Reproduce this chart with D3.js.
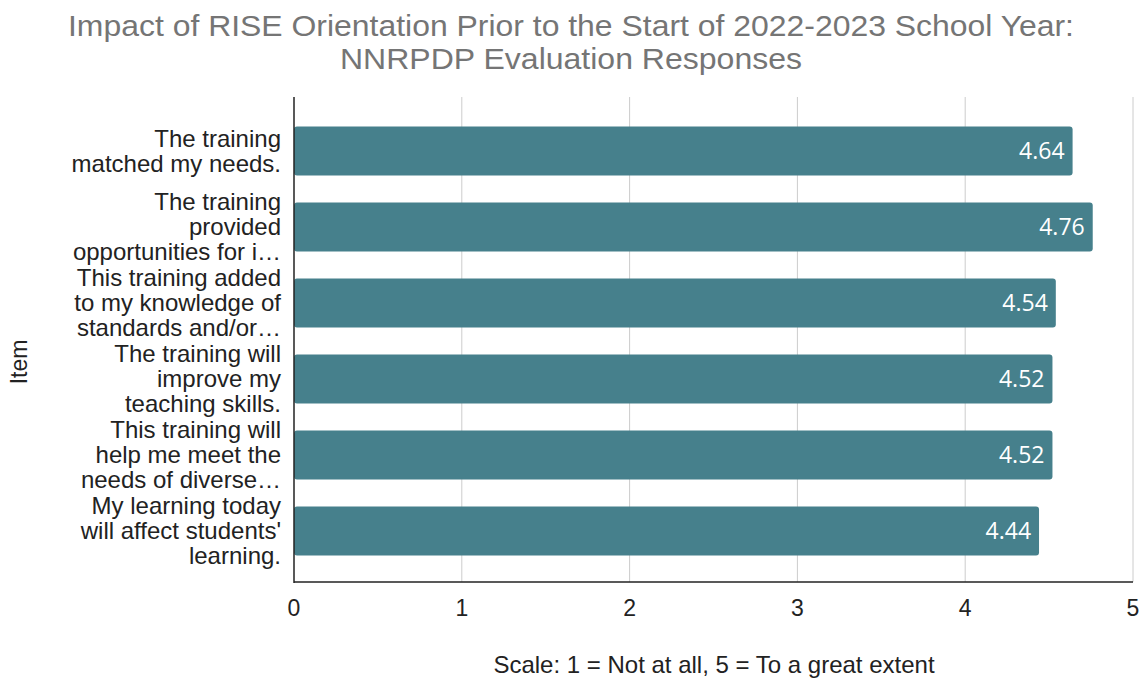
<!DOCTYPE html>
<html><head><meta charset="utf-8">
<script src="https://cdn.jsdelivr.net/npm/d3@7/dist/d3.min.js"></script>
<style>body{margin:0;background:#fff}</style>
</head><body>
<svg id="chart" width="1145" height="679"></svg>
<script>
const categories = [
  ["The training", "matched my needs."],
  ["The training", "provided", "opportunities for i\u2026"],
  ["This training added", "to my knowledge of", "standards and/or\u2026"],
  ["The training will", "improve my", "teaching skills."],
  ["This training will", "help me meet the", "needs of diverse\u2026"],
  ["My learning today", "will affect students'", "learning."]
];
const values = [4.64, 4.76, 4.54, 4.52, 4.52, 4.44];
const xTicks = [0, 1, 2, 3, 4, 5];
const titleLines = ["Impact of RISE Orientation Prior to the Start of 2022-2023 School Year:", "NNRPDP Evaluation Responses"];
const xTitle = "Scale: 1 = Not at all, 5 = To a great extent";
const yTitle = "Item";

const svg = d3.select("#chart");
const font = "'Liberation Sans', Arial, sans-serif";
const plotL = 294, plotR = 1133, plotT = 97, plotB = 582;

const x = d3.scaleLinear().domain([0, 5]).range([plotL, plotR]);
const y = d3.scaleBand().domain(d3.range(categories.length)).range([113, 569]).paddingInner(0.355).paddingOuter(0.1775);

// gridlines
svg.append("g").selectAll("line").data(xTicks.filter(d => d > 0)).join("line")
  .attr("x1", d => x(d)).attr("x2", d => x(d)).attr("y1", plotT).attr("y2", plotB)
  .attr("stroke", "#cccccc").attr("stroke-width", 1);

// bars
svg.append("g").selectAll("rect").data(values).join("rect")
  .attr("x", x(0)).attr("y", (d, i) => y(i))
  .attr("width", d => x(d) - x(0)).attr("height", y.bandwidth())
  .attr("rx", 3).attr("fill", "#46808c");

// value labels
svg.append("g").selectAll("text").data(values).join("text")
  .attr("x", d => x(d) - 8).attr("y", (d, i) => y(i) + y.bandwidth() / 2)
  .attr("dy", "0.36em").attr("text-anchor", "end")
  .attr("font-family", "'Open Sans', sans-serif").attr("font-size", 23)
  .attr("fill", "#ffffff").text(d => d.toFixed(2));

// axes lines
svg.append("line").attr("x1", plotL).attr("x2", plotL).attr("y1", plotT).attr("y2", plotB + 1)
  .attr("stroke", "#222").attr("stroke-width", 1.5);
svg.append("line").attr("x1", plotL).attr("x2", plotR).attr("y1", plotB).attr("y2", plotB)
  .attr("stroke", "#222").attr("stroke-width", 1.5);

// x tick labels
svg.append("g").selectAll("text").data(xTicks).join("text")
  .attr("x", d => x(d)).attr("y", 616).attr("text-anchor", "middle")
  .attr("font-family", font).attr("font-size", 23).attr("fill", "#222")
  .text(d => d);

// category labels
const lineH = 25;
const cg = svg.append("g");
categories.forEach((lines, i) => {
  const cy = y(i) + y.bandwidth() / 2;
  const t = cg.append("text").attr("text-anchor", "end")
    .attr("font-family", font).attr("font-size", 24).attr("fill", "#222");
  lines.forEach((ln, j) => {
    t.append("tspan").attr("x", 281)
      .attr("y", cy + (j - (lines.length - 1) / 2) * lineH)
      .attr("dy", "0.35em").text(ln);
  });
});

// title
const titleWidths = [1006, 462];
svg.append("g").selectAll("text").data(titleLines).join("text")
  .attr("x", 571).attr("y", (d, i) => 36 + i * 33).attr("text-anchor", "middle")
  .attr("font-family", font).attr("font-size", 29).attr("fill", "#757575")
  .attr("textLength", (d, i) => titleWidths[i]).attr("lengthAdjust", "spacingAndGlyphs")
  .text(d => d);

// axis titles
svg.append("text").attr("x", 714).attr("y", 673).attr("text-anchor", "middle")
  .attr("font-family", font).attr("font-size", 24).attr("fill", "#222").text(xTitle);
svg.append("text").attr("transform", "translate(27,362) rotate(-90)").attr("text-anchor", "middle")
  .attr("font-family", font).attr("font-size", 23).attr("fill", "#222").text(yTitle);
</script>
</body></html>
